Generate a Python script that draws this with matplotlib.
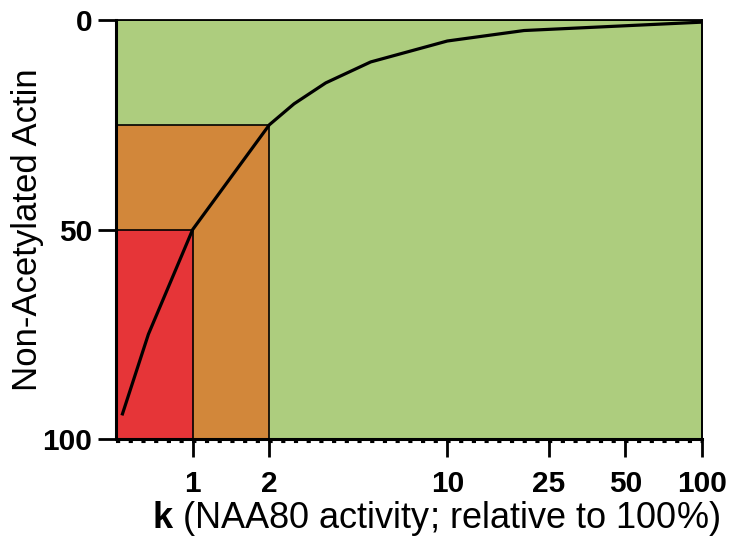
import matplotlib
matplotlib.use("Agg")
import matplotlib.pyplot as plt
from matplotlib.ticker import FixedLocator, NullLocator
from matplotlib.transforms import ScaledTranslation

plt.rcParams['font.family'] = ['Liberation Sans', 'DejaVu Sans']
plt.rcParams['mathtext.fontset'] = 'custom'
plt.rcParams['mathtext.bf'] = 'Liberation Sans:bold'
plt.rcParams['mathtext.rm'] = 'Liberation Sans'

# curve: non-acetylated actin vs relative NAA80 activity k
k_vals = [0.53, 0.67, 1, 2, 2.5, 3.33, 5, 10, 20, 100]
actin_vals = [94, 75, 50, 25, 20, 15, 10, 5, 2.5, 0.5]

# shaded zones (k upper limit, level) drawn largest first
zone_k = [100, 2, 1]
zone_level = [0, 25, 50]
zone_colors = ['#adcd7e', '#d2873a', '#e63538']

x_ticks = [1, 2, 10, 25, 50, 100]
y_ticks = [0, 50, 100]
k_min = 0.5

fig = plt.figure(figsize=(7.32, 5.42), dpi=100)
ax = fig.add_axes([0.1585, 0.19, 0.8005, 0.773])

for kk, lev, col in zip(zone_k, zone_level, zone_colors):
    ax.fill_between([k_min, kk], lev, 100, facecolor=col, edgecolor='black', lw=1.2, zorder=1)

ax.plot(k_vals, actin_vals, color='black', lw=2.3, zorder=3)

ax.set_xscale('log')
ax.set_xlim(k_min, 100)
ax.set_ylim(100, 0)

ax.xaxis.set_major_locator(FixedLocator(x_ticks))
ax.xaxis.set_minor_locator(NullLocator())
ax.set_xticklabels([str(t) for t in x_ticks])
ax.set_yticks(y_ticks)

for lab in ax.get_xticklabels() + ax.get_yticklabels():
    lab.set_fontweight('bold')
ax.tick_params(axis='x', length=13, width=2, labelsize=21.5, pad=9)
ax.tick_params(axis='y', length=13, width=2, labelsize=21.5, pad=4)

for side in ['left', 'bottom']:
    ax.spines[side].set_linewidth(2.2)
for side in ['top', 'right']:
    ax.spines[side].set_linewidth(1.3)
for sp in ax.spines.values():
    sp.set_zorder(4)

# dashed strip under the bottom axis line
off = ScaledTranslation(0, -2.2 / 72, fig.dpi_scale_trans)
ax.plot([0, 1], [0, 0], transform=ax.transAxes + off, color='black', lw=1.5,
        dashes=(2, 4.1), clip_on=False, zorder=5)

ax.set_ylabel('Non-Acetylated Actin', fontsize=25, labelpad=-1)
ax.set_xlabel(r'$\mathbf{k}$ (NAA80 activity; relative to 100%)', fontsize=26, labelpad=1)
ax.xaxis.label.set_x(0.546)

fig.savefig('out.png', dpi=100)
